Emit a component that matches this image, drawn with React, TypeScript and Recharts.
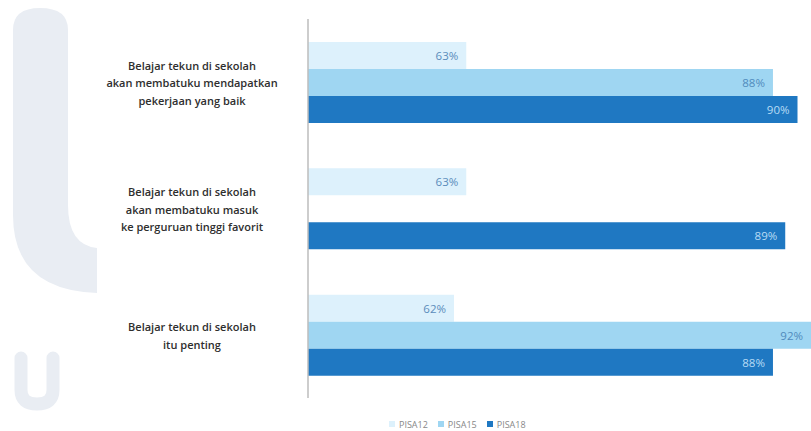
import { Bar, BarChart, LabelList, Legend, XAxis, YAxis } from "recharts";

// survey statements (y categories), split the way the slide wraps them
const categoryLines = [
  ["Belajar tekun di sekolah", "akan membatuku mendapatkan", "pekerjaan yang baik"],
  ["Belajar tekun di sekolah", "akan membatuku masuk", "ke perguruan tinggi favorit"],
  ["Belajar tekun di sekolah", "itu penting"],
];
const seriesNames = ["PISA12", "PISA15", "PISA18"];
const pisa12 = [63, 63, 62];
const pisa15 = [88, null, 92];
const pisa18 = [90, 89, 88];

const COLORS = ["#ddf1fc", "#9fd6f2", "#1f78c2"];
const LABEL_COLORS = ["#5a8cbb", "#4f8bbd", "#b8dcf5"];
const FONT = "'Open Sans', Lato, sans-serif";
const PLOT_RIGHT = 811;
const LABEL_CENTER = 192;

const data = categoryLines.map((lines, i) => ({
  name: lines.join(" "),
  lines,
  PISA12: pisa12[i],
  PISA15: pisa15[i],
  PISA18: pisa18[i],
}));

function CategoryTick({ y, payload }: any) {
  const row = data.find((d) => d.name === payload.value);
  const lines = row ? row.lines : [String(payload.value)];
  const lh = 17.5;
  const start = y - ((lines.length - 1) * lh) / 2;
  return (
    <text
      x={LABEL_CENTER}
      y={start}
      textAnchor="middle"
      fill="#2e2e2e"
      fontSize={11}
      fontWeight={600}
      fontFamily={FONT}
      dominantBaseline="central"
    >
      {lines.map((l, k) => (
        <tspan key={k} x={LABEL_CENTER} y={start + k * lh}>
          {l}
        </tspan>
      ))}
    </text>
  );
}

function makeLabel(color: string) {
  return function ValueLabel(props: any) {
    const { x, y, width, height, value } = props;
    if (value == null) return null;
    const end = Math.min(x + width, PLOT_RIGHT);
    return (
      <text
        x={end - 8}
        y={y + height / 2}
        textAnchor="end"
        dominantBaseline="central"
        fill={color}
        fontSize={11.5}
        fontFamily={FONT}
      >
        {value}%
      </text>
    );
  };
}

function LegendContent() {
  return (
    <div style={{ display: "flex", height: 16, alignItems: "center", fontFamily: FONT, fontSize: 9, color: "#888" }}>
      {seriesNames.map((s, i) => (
        <span key={s} style={{ display: "flex", alignItems: "center", marginRight: 10 }}>
          <span style={{ width: 6, height: 6, background: COLORS[i], marginRight: 4 }} />
          {s}
        </span>
      ))}
    </div>
  );
}

function Watermark() {
  return (
    <svg width={120} height={431} style={{ position: "absolute", left: 0, top: 0 }}>
      <path
        d="M13,30 Q13,8 40,8 Q68,8 68,30 L68,205 Q68,245 97,248 L97,293 Q13,290 13,215 Z"
        fill="#e9edf3"
      />
      <path
        d="M21,358 L21,390 Q21,404 37,404 Q53,404 53,390 L53,358"
        fill="none"
        stroke="#e9edf3"
        strokeWidth={13}
        strokeLinecap="round"
      />
    </svg>
  );
}

export default function App() {
  const series = [
    { key: "PISA12", color: COLORS[0], label: LABEL_COLORS[0] },
    { key: "PISA15", color: COLORS[1], label: LABEL_COLORS[1] },
    { key: "PISA18", color: COLORS[2], label: LABEL_COLORS[2] },
  ];
  return (
    <div style={{ position: "absolute", left: 0, top: 0, width: 811, height: 431, background: "#fff", overflow: "hidden" }}>
      <Watermark />
      <BarChart
        layout="vertical"
        width={811}
        height={431}
        data={data}
        margin={{ top: 19, right: 0, bottom: 17, left: 0 }}
        barSize={27}
        barGap={0}
        style={{ position: "absolute", left: 0, top: 0 }}
      >
        <XAxis type="number" domain={[50.1, 91.1]} allowDataOverflow hide />
        <YAxis
          type="category"
          dataKey="name"
          width={308}
          tickLine={false}
          axisLine={{ stroke: "#bdbdbd", strokeWidth: 1.5 }}
          tick={<CategoryTick />}
          interval={0}
        />
        <Legend
          verticalAlign="bottom"
          content={<LegendContent />}
          wrapperStyle={{ left: 389, width: 180, bottom: -1 }}
        />
        {series.map((s) => (
          <Bar key={s.key} dataKey={s.key} name={s.key} fill={s.color} isAnimationActive={false}>
            <LabelList dataKey={s.key} content={makeLabel(s.label)} />
          </Bar>
        ))}
      </BarChart>
    </div>
  );
}
